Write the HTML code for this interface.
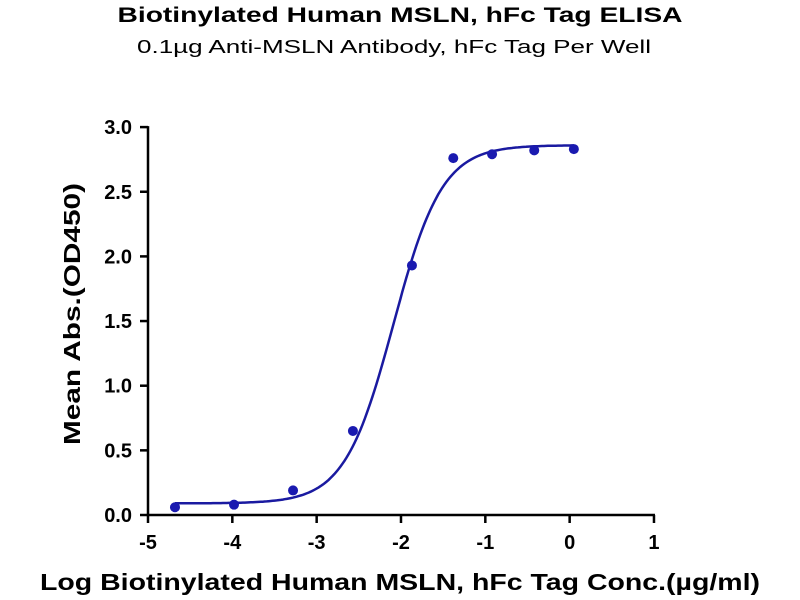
<!DOCTYPE html>
<html><head><meta charset="utf-8"><style>
body{margin:0;background:#fff;}
svg{display:block;font-family:"Liberation Sans",Arial,sans-serif;}
</style></head><body>
<svg id="chart" width="800" height="600">
<text x="400" y="22" text-anchor="middle" font-size="21" font-weight="bold" textLength="565" lengthAdjust="spacingAndGlyphs">Biotinylated Human MSLN, hFc Tag ELISA</text>
<text x="394" y="53" text-anchor="middle" font-size="18" textLength="514" lengthAdjust="spacingAndGlyphs">0.1µg Anti-MSLN Antibody, hFc Tag Per Well</text>
<text transform="translate(80,314) rotate(-90)" text-anchor="middle" font-size="23" font-weight="bold" textLength="262" lengthAdjust="spacingAndGlyphs">Mean Abs.(OD450)</text>
<text x="400" y="590" text-anchor="middle" font-size="23" font-weight="bold" textLength="720" lengthAdjust="spacingAndGlyphs">Log Biotinylated Human MSLN, hFc Tag Conc.(µg/ml)</text>
<g id="axes"></g><g id="marks"></g>
</svg>
<script>
const xTicks=[-5,-4,-3,-2,-1,0,1];
const yTicks=[0,0.5,1,1.5,2,2.5,3];
const yTickLabels=["0.0","0.5","1.0","1.5","2.0","2.5","3.0"];
const logConc=[-4.68,-3.98,-3.28,-2.57,-1.87,-1.38,-0.92,-0.42,0.05];
const absVals=[0.06,0.08,0.19,0.65,1.93,2.76,2.79,2.82,2.83];
const fitBottom=0.09, fitTop=2.86, fitLogEC50=-2.09, fitHill=1.5;
const ns="http://www.w3.org/2000/svg";
const X=v=>148+(v+5)*84.33;
const Y=v=>515-v*129.3;
function mk(t,a,p){const e=document.createElementNS(ns,t);for(const k in a)e.setAttribute(k,a[k]);p.appendChild(e);return e;}
const ax=document.getElementById('axes'),mg=document.getElementById('marks');
let l=mk('line',{x1:148,y1:Y(3)-1,x2:148,y2:515,stroke:'#000','stroke-width':2.5},ax);


l=mk('line',{x1:146.8,y1:515,x2:X(1)+1,y2:515,stroke:'#000','stroke-width':2.5},ax);


yTicks.forEach((v,i)=>{
 const t=mk('line',{x1:140,x2:148,y1:Y(v),y2:Y(v),stroke:'#000','stroke-width':2.5},ax);
 
 
 const s=mk('text',{x:132,y:Y(v)+7,'text-anchor':'end','font-size':20,'font-weight':'bold'},ax);
 s.textContent=yTickLabels[i];
 
 
});
xTicks.forEach(v=>{
 const t=mk('line',{x1:X(v),x2:X(v),y1:515,y2:523,stroke:'#000','stroke-width':2.5},ax);
 
 
 const s=mk('text',{x:X(v),y:549,'text-anchor':'middle','font-size':20,'font-weight':'bold'},ax);
 s.textContent=String(v);
 
 
});
const f=x=>fitBottom+(fitTop-fitBottom)/(1+Math.pow(10,(fitLogEC50-x)*fitHill));
let d='';const x0=logConc[0],x1=logConc[logConc.length-1];
for(let i=0;i<=200;i++){const x=x0+(x1-x0)*i/200;d+=(i?'L':'M')+X(x).toFixed(1)+','+Y(f(x)).toFixed(1);}
const c=mk('path',{d:d,fill:'none',stroke:'#1a1aa0','stroke-width':2.5},mg);


logConc.forEach((x,i)=>{
 const p=mk('circle',{cx:X(x),cy:Y(absVals[i]),r:5,fill:'#1a1ab0'},mg);
 
 
});
</script>
</body></html>
